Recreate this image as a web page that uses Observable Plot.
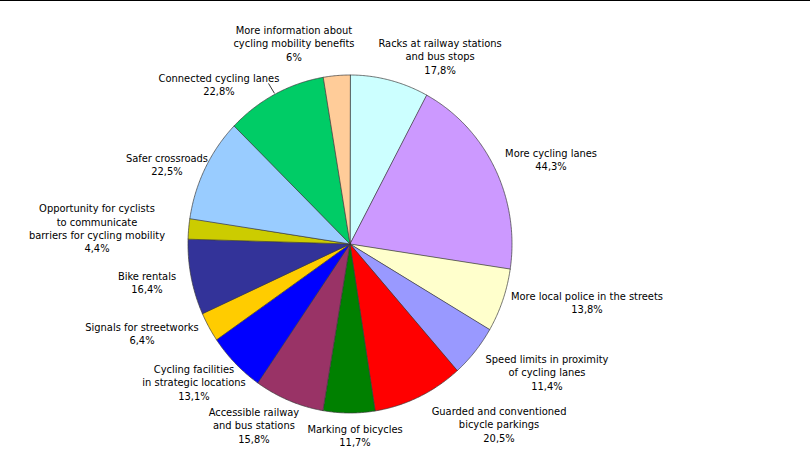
<!DOCTYPE html>
<html>
<head>
<meta charset="utf-8">
<script src="https://cdn.jsdelivr.net/npm/d3@7"></script>
<script src="https://cdn.jsdelivr.net/npm/@observablehq/plot@0.6"></script>
<style>
  html, body { margin: 0; padding: 0; background: #fff; }
  #wrap { position: relative; width: 810px; height: 470px; }
  #topline { position: absolute; left: 0; top: 0; width: 810px; height: 1px; background: #000; }
  svg { display: block; }
</style>
</head>
<body>
<div id="wrap"><div id="topline"></div></div>
<script>
// Data (clockwise from 12 o'clock)
const categories = [
  "Racks at railway stations\nand bus stops",
  "More cycling lanes",
  "More local police in the streets",
  "Speed limits in proximity\nof cycling lanes",
  "Guarded and conventioned\nbicycle parkings",
  "Marking of bicycles",
  "Accessible railway\nand bus stations",
  "Cycling facilities\nin strategic locations",
  "Signals for streetworks",
  "Bike rentals",
  "Opportunity for cyclists\nto communicate\nbarriers for cycling mobility",
  "Safer crossroads",
  "Connected cycling lanes",
  "More information about\ncycling mobility benefits"
];
const values = [17.8, 44.3, 13.8, 11.4, 20.5, 11.7, 15.8, 13.1, 6.4, 16.4, 4.4, 22.5, 22.8, 6];
const colors = ["#CCFFFF", "#CC99FF", "#FFFFCC", "#9999FF", "#FF0000", "#008000", "#993366",
                "#0000FF", "#FFCC00", "#333399", "#CCCC00", "#99CCFF", "#00CC66", "#FFCC99"];

// Layout: label anchor positions in pie-radius units (x right, y up)
const labelXY = [
  [0.556, 1.112], [1.241, 0.503], [1.463, -0.343], [1.216, -0.757], [0.920, -1.065],
  [0.031, -1.130], [-0.593, -1.071], [-0.963, -0.817], [-1.284, -0.527], [-1.253, -0.225],
  [-1.562, 0.095], [-1.130, 0.473], [-0.809, 0.947], [-0.346, 1.189]
];
const leader = [{x1: -0.503, y1: 0.95, x2: -0.466, y2: 0.891}];

const fmt = v => (Number.isInteger(v) ? String(v) : v.toFixed(1).replace(".", ",")) + "%";

const total = d3.sum(values);
const points = [];
let cum = 0;
values.forEach((v, i) => {
  const a0 = cum / total * 2 * Math.PI;
  cum += v;
  const a1 = cum / total * 2 * Math.PI;
  const n = Math.max(2, Math.ceil((a1 - a0) / (Math.PI / 360)));
  points.push({i, x: 0, y: 0, color: colors[i]});
  for (let k = 0; k <= n; k++) {
    const a = a0 + (a1 - a0) * k / n;
    points.push({i, x: Math.sin(a), y: Math.cos(a), color: colors[i]});
  }
});

const labels = categories.map((c, i) => ({
  text: c + "\n" + fmt(values[i]), x: labelXY[i][0], y: labelXY[i][1]
}));

const chart = Plot.plot({
  width: 810,
  height: 470,
  marginLeft: 187.5,
  marginRight: 298.5,
  marginTop: 74.5,
  marginBottom: 57.5,
  x: {domain: [-1, 1], axis: null},
  y: {domain: [-1, 1], axis: null},
  color: {type: "identity"},
  style: {fontFamily: "'DejaVu Sans Condensed', 'DejaVu Sans', sans-serif", background: "#fff"},
  marks: [
    Plot.line(points, {x: "x", y: "y", z: "i", fill: "color", stroke: "#3a3a3a", strokeWidth: 0.7, curve: "linear-closed"}),
    Plot.link(leader, {x1: "x1", y1: "y1", x2: "x2", y2: "y2", stroke: "#000", strokeWidth: 0.8}),
    Plot.text(labels, {x: "x", y: "y", text: "text", fill: "#000", fontSize: 11, lineHeight: 1.22, lineAnchor: "middle", textAnchor: "middle"})
  ]
});
document.getElementById("wrap").appendChild(chart);
</script>
</body>
</html>
